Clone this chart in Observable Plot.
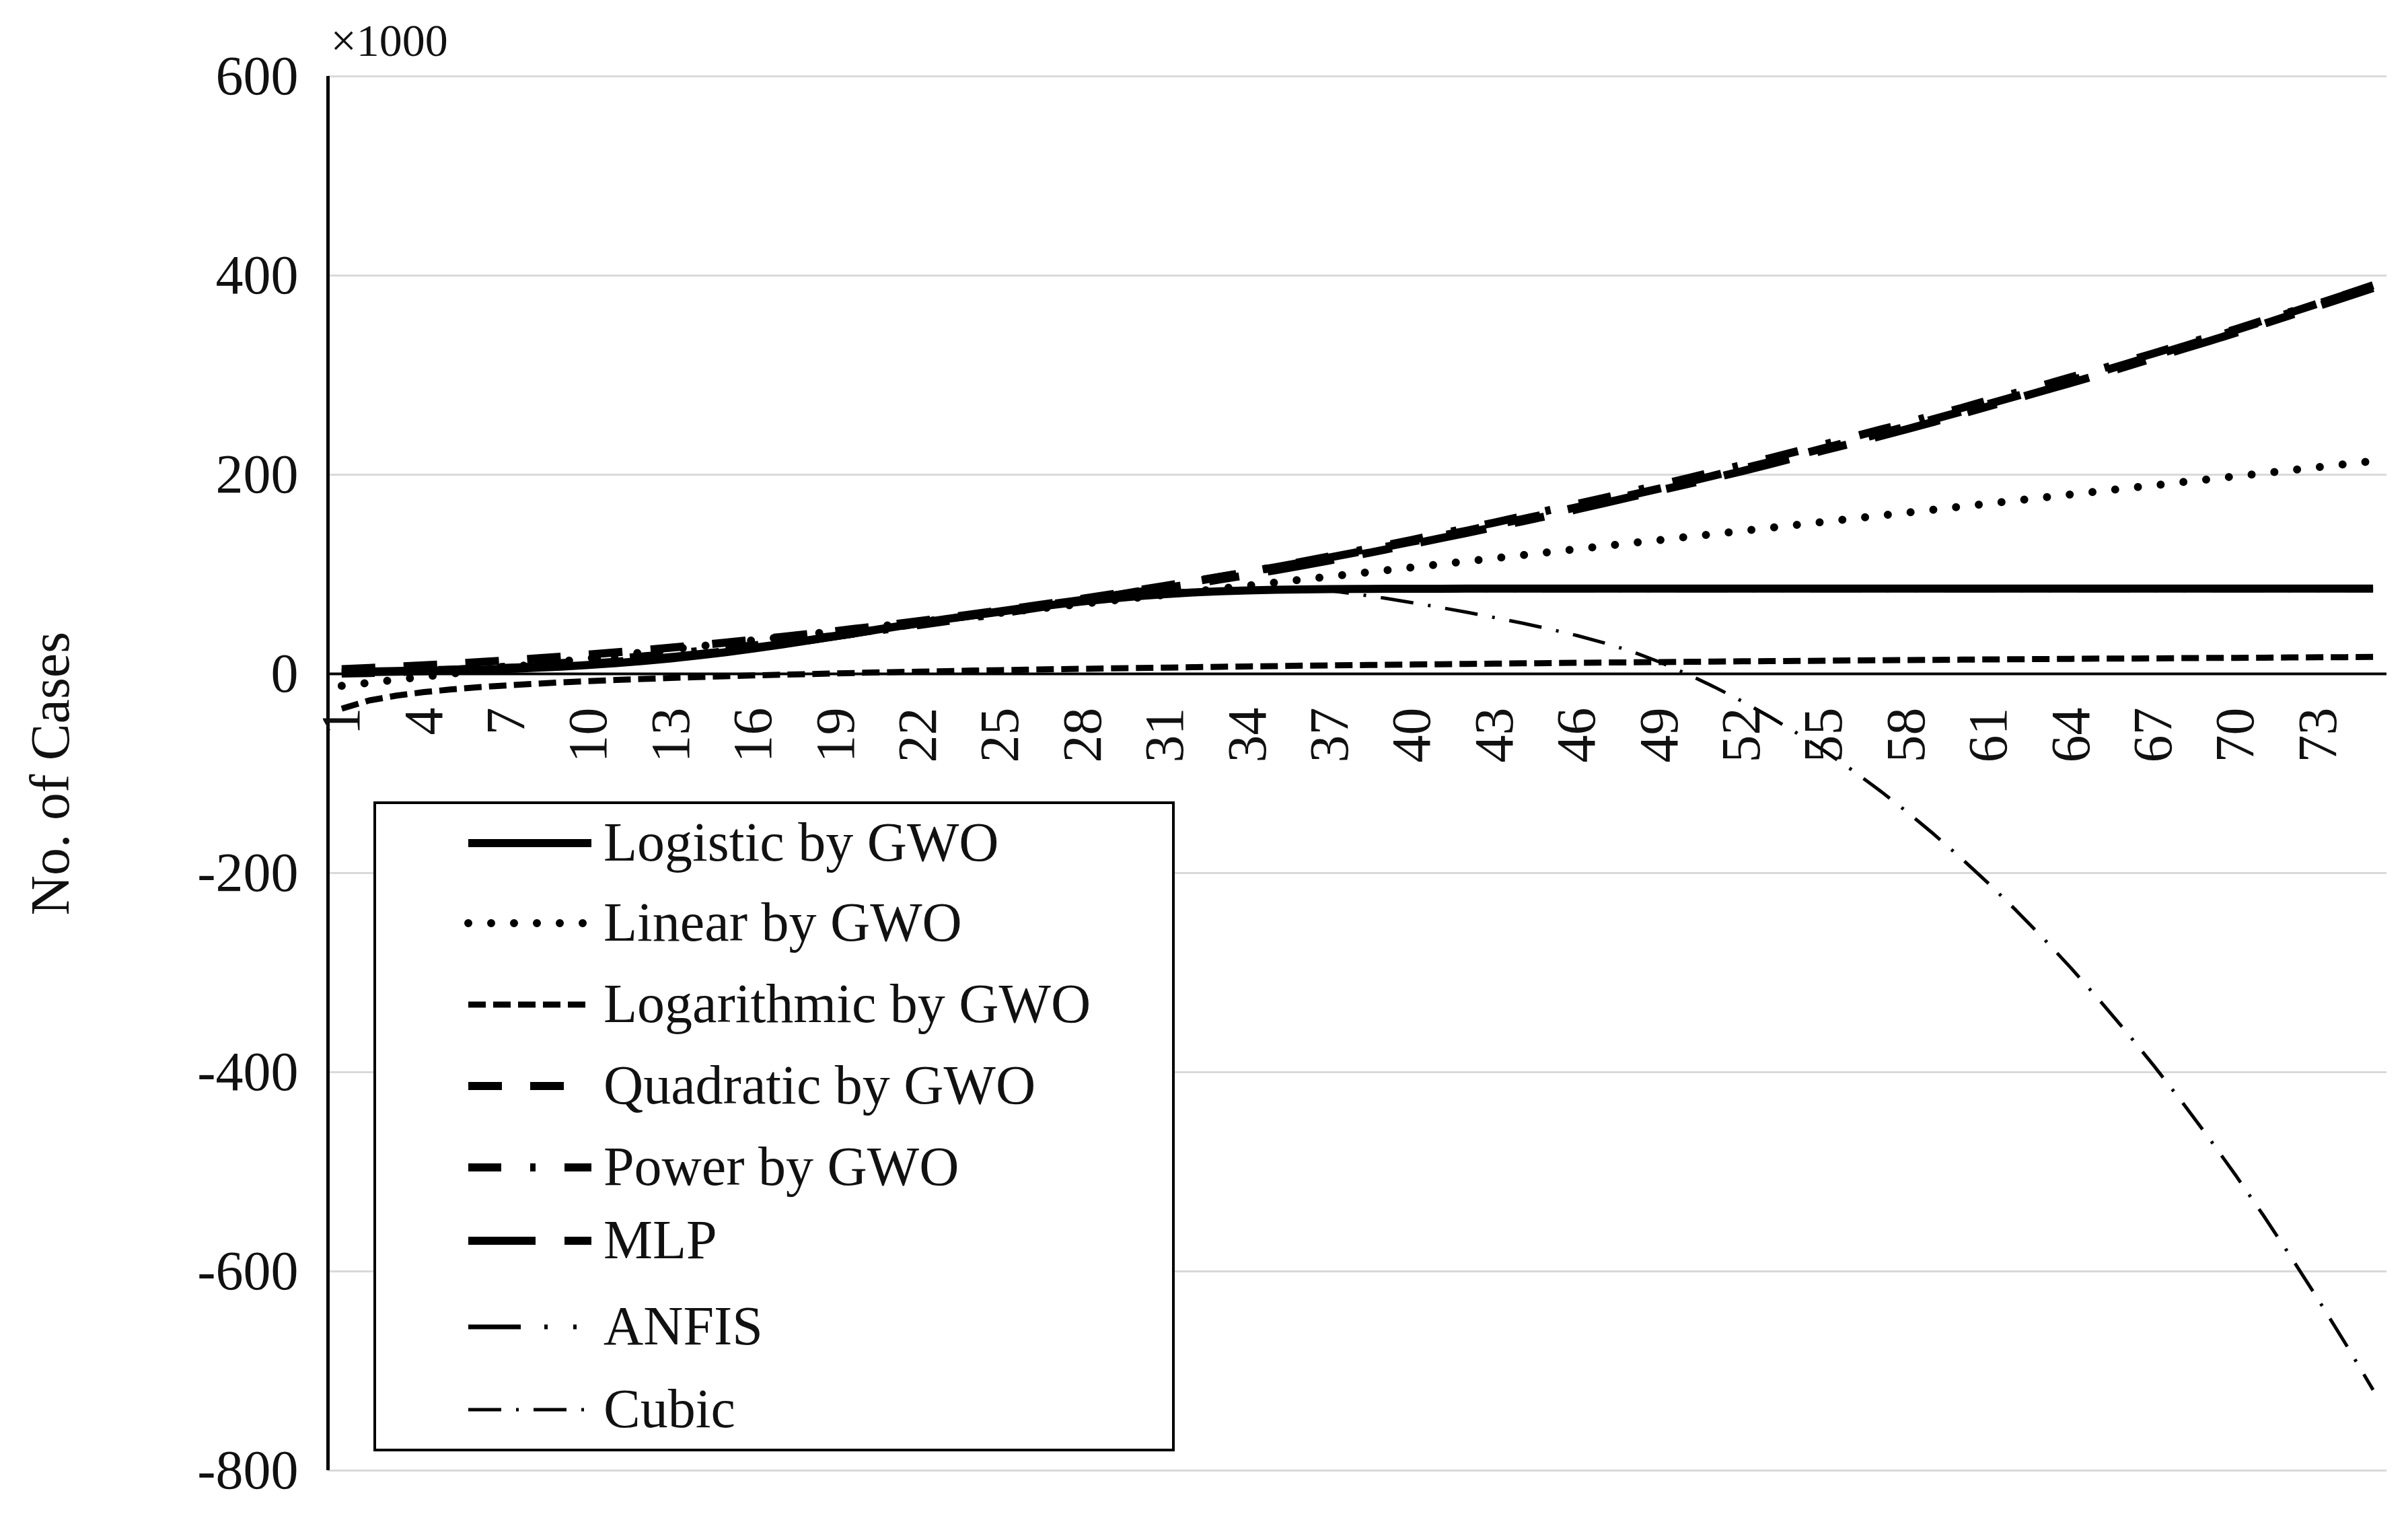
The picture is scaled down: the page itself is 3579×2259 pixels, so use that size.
<!DOCTYPE html>
<html><head><meta charset="utf-8">
<script src="https://cdn.jsdelivr.net/npm/d3@7"></script>
<script src="https://cdn.jsdelivr.net/npm/@observablehq/plot@0.6"></script>
<style>
html,body{margin:0;padding:0;background:#fff;}
#wrap{position:relative;width:3579px;height:2259px;font-family:"Liberation Serif","Times New Roman",serif;}
#legend{position:absolute;left:555px;top:1191px;width:1191px;height:966px;border:4px solid #000;background:#fff;box-sizing:border-box;}
#legend svg{position:absolute;left:0;top:0;}
</style></head><body><div id="wrap"></div>
<script>
// ---------- data ----------
const days = [1,2,3,4,5,6,7,8,9,10,11,12,13,14,15,16,17,18,19,20,21,22,23,24,25,26,27,28,29,30,31,32,33,34,35,36,37,38,39,40,41,42,43,44,45,46,47,48,49,50,51,52,53,54,55,56,57,58,59,60,61,62,63,64,65,66,67,68,69,70,71,72,73,74,75];
const xTickLabels = [1,4,7,10,13,16,19,22,25,28,31,34,37,40,43,46,49,52,55,58,61,64,67,70,73];
const yTicks = [600,400,200,0,-200,-400,-600,-800];
const seriesNames = ["Logistic by GWO","Linear by GWO","Logarithmic by GWO","Quadratic by GWO","Power by GWO","MLP","ANFIS","Cubic"];

const logistic = [
 1.5,1.8,2.2,2.7,3.3,4.0,4.9,6.0,7.3,8.9,
 10.8,13.0,15.6,18.5,21.8,25.4,29.3,33.5,37.8,42.2,
 46.6,50.9,55.0,58.8,62.4,66.2,69.6,72.7,75.5,78.0,
 80.0,81.7,82.9,83.8,84.4,84.8,85.1,85.3,85.4,85.5,
 85.5,85.6,85.6,85.6,85.6,85.6,85.6,85.6,85.6,85.6,
 85.6,85.6,85.6,85.6,85.6,85.6,85.6,85.6,85.6,85.6,
 85.6,85.6,85.6,85.6,85.6,85.6,85.6,85.6,85.6,85.6,
 85.6,85.6,85.6,85.6,85.6];
const linear = [
 -12.0,-9.0,-5.9,-2.9,0.2,3.3,6.3,9.4,12.4,15.5,
 18.5,21.6,24.6,27.7,30.7,33.8,36.8,39.9,42.9,46.0,
 49.0,52.1,55.1,58.2,61.2,64.3,67.3,70.4,73.4,76.5,
 79.5,82.6,85.6,88.7,91.7,94.8,97.8,100.9,103.9,107.0,
 110.0,113.1,116.1,119.2,122.2,125.3,128.3,131.4,134.4,137.5,
 140.5,143.6,146.6,149.7,152.7,155.8,158.8,161.9,164.9,168.0,
 171.0,174.1,177.1,180.2,183.2,186.3,189.3,192.4,195.4,198.5,
 201.5,204.6,207.6,210.7,213.7];
const logarithmic = [
 -35.0,-26.7,-21.8,-18.3,-15.6,-13.4,-11.6,-10.0,-8.5,-7.3,
 -6.1,-5.1,-4.1,-3.2,-2.4,-1.6,-0.9,-0.2,0.4,1.1,
 1.7,2.2,2.7,3.3,3.8,4.2,4.7,5.1,5.5,5.9,
 6.3,6.7,7.1,7.5,7.8,8.2,8.5,8.8,9.1,9.4,
 9.7,10.0,10.3,10.6,10.8,11.1,11.4,11.6,11.9,12.1,
 12.3,12.6,12.8,13.0,13.2,13.5,13.7,13.9,14.1,14.3,
 14.5,14.7,14.9,15.1,15.3,15.4,15.6,15.8,16.0,16.1,
 16.3,16.5,16.7,16.8,17.0];
const quadratic = [
 4.7,5.9,7.2,8.6,10.1,11.8,13.5,15.4,17.3,19.4,
 21.6,23.9,26.3,28.8,31.4,34.2,37.0,40.0,43.0,46.2,
 49.5,52.9,56.4,60.0,63.7,67.6,71.5,75.6,79.7,84.0,
 88.4,92.9,97.5,102.2,107.0,112.0,117.0,122.2,127.4,132.8,
 138.3,143.9,149.6,155.4,161.3,167.4,173.5,179.8,186.1,192.6,
 199.2,205.9,212.7,219.6,226.6,233.8,241.0,248.4,255.8,263.4,
 271.1,278.9,286.8,294.8,302.9,311.2,319.5,328.0,336.5,345.2,
 354.0,362.9,371.9,381.0,390.2];
const power = [
 0.3,0.9,1.7,2.8,4.0,5.5,7.1,8.9,10.8,12.9,
 15.2,17.6,20.1,22.8,25.7,28.6,31.7,34.9,38.2,41.7,
 45.3,49.0,52.8,56.8,60.8,65.0,69.3,73.6,78.1,82.8,
 87.4,92.4,97.3,102.2,107.4,112.7,118.0,123.5,129.0,134.6,
 140.5,146.2,152.0,158.1,164.4,170.6,176.8,183.1,189.7,196.2,
 203.0,209.6,216.4,223.4,230.4,237.5,244.9,251.9,259.8,266.9,
 274.8,282.3,290.0,297.9,305.5,313.8,321.8,330.3,337.9,346.2,
 354.9,363.6,371.7,380.8,389.2];
const mlp = [
 2.0,2.4,2.9,3.5,4.2,5.0,6.0,7.2,8.6,10.3,
 12.2,14.4,16.9,19.7,22.8,26.2,29.9,33.8,37.9,42.1,
 46.4,50.6,54.8,58.9,62.9,66.8,70.6,74.4,78.2,82.1,
 86.2,90.4,94.8,99.3,104.0,108.9,114.0,119.3,124.8,130.4,
 136.0,141.7,147.4,153.2,159.1,165.2,171.5,177.9,184.2,190.4,
 196.8,203.5,210.4,217.5,224.5,231.4,238.4,245.6,253.1,260.9,
 268.8,276.6,284.4,292.2,300.3,308.6,317.1,325.6,334.0,342.5,
 351.3,360.3,369.4,378.4,387.5];
const anfis = [
 0.5,0.9,1.4,2.0,2.8,3.7,4.8,6.1,7.6,9.4,
 11.5,13.9,16.6,19.6,22.9,26.5,30.3,34.3,38.4,42.6,
 46.8,51.0,55.1,59.0,62.7,66.2,69.4,72.3,74.9,77.2,
 79.2,80.8,82.0,82.9,83.5,83.9,84.1,84.2,84.3,84.3,
 84.3,84.3,84.3,84.3,84.3,84.3,84.3,84.3,84.3,84.3,
 84.3,84.3,84.3,84.3,84.3,84.3,84.3,84.3,84.3,84.3,
 84.3,84.3,84.3,84.3,84.3,84.3,84.3,84.3,84.3,84.3,
 84.3,84.3,84.3,84.3,84.3];
const cubic = [
 3.0,3.2,3.5,3.9,4.5,5.2,6.1,7.2,8.5,10.1,
 12.0,14.2,16.7,19.5,22.6,26.0,29.7,33.6,37.7,41.9,
 46.1,50.3,54.4,58.4,62.2,65.9,69.4,72.6,75.5,78.1,
 80.3,82.1,83.4,84.2,84.5,84.4,83.6,80.0,76.0,71.5,
 66.8,61.8,56.5,51.0,45.0,38.5,31.0,22.5,12.0,0.0,
 -13.1,-27.3,-42.7,-59.3,-77.2,-96.2,-116.5,-138.1,-161.0,-185.2,
 -210.7,-237.6,-265.9,-295.5,-326.6,-359.1,-393.0,-428.4,-465.3,-503.7,
 -543.6,-585.2,-628.2,-672.8,-719.0];

const seriesValues = [logistic, linear, logarithmic, quadratic, power, mlp, anfis, cubic];

// ---------- styles ----------
const lineStyles = [
  {w:12, dash:"none", cap:"butt"},
  {w:12, dash:"0,34", cap:"round"},
  {w:9,  dash:"26,11", cap:"butt"},
  {w:12, dash:"50,42", cap:"butt"},
  {w:12, dash:"49,43,8,43", cap:"butt"},
  {w:12, dash:"100,43,45,43", cap:"butt"},
  {w:7,  dash:"78,35,5,38,5,38", cap:"butt"},
  {w:5,  dash:"49,22,4,22", cap:"butt"}
];
const FONT = "Liberation Serif, Times New Roman, serif";
const TXT = "#111";

const lineMarks = seriesValues.map((vals, k) => Plot.line(days, {
  x: d => d,
  y: (d, i) => vals[i],
  stroke: "#000",
  strokeWidth: lineStyles[k].w,
  strokeDasharray: lineStyles[k].dash,
  strokeLinecap: lineStyles[k].cap,
  strokeLinejoin: "round"
}));

const chart = Plot.plot({
  width: 3579,
  height: 2259,
  marginLeft: 487,
  marginRight: 32,
  marginTop: 113,
  marginBottom: 74,
  style: {fontFamily: FONT, fontSize: "82px", color: TXT, background: "#fff", overflow: "visible"},
  x: {type: "linear", domain: [0.5, 75.5], axis: null},
  y: {type: "linear", domain: [-800, 600], axis: null},
  marks: [
    Plot.ruleY(yTicks, {stroke: "#d9d9d9", strokeWidth: 3}),
    ...lineMarks,
    Plot.ruleY([0], {stroke: "#000", strokeWidth: 4}),
    Plot.ruleX([0.5], {stroke: "#000", strokeWidth: 5}),
    Plot.text(yTicks, {y: d => d, frameAnchor: "left", dx: -44, textAnchor: "end",
      text: d => String(d), fontSize: 82, fill: TXT}),
    Plot.text(xTickLabels, {x: d => d, y: () => 0, dy: 50, rotate: -90, textAnchor: "end",
      text: d => String(d), fontSize: 82, fill: TXT}),
    Plot.text(["×1000"], {frameAnchor: "top-left", dx: 4, dy: -52, textAnchor: "start", lineAnchor: "middle",
      text: d => d, fontSize: 68, fill: TXT}),
    Plot.text(["No. of Cases"], {frameAnchor: "left", dx: -412, rotate: -90, textAnchor: "middle",
      text: d => d, fontSize: 82, fill: TXT})
  ]
});

const wrap = document.getElementById("wrap");
wrap.appendChild(chart);

// ---------- legend (overlay box) ----------
const legendRowsY = [58, 177, 298, 419, 540, 649, 777, 900];
const legend = document.createElement("div");
legend.id = "legend";
const ns = "http://www.w3.org/2000/svg";
const lsvg = document.createElementNS(ns, "svg");
lsvg.setAttribute("width", 1183);
lsvg.setAttribute("height", 958);
seriesNames.forEach((name, k) => {
  const y = legendRowsY[k];
  const ln = document.createElementNS(ns, "line");
  ln.setAttribute("x1", 137); ln.setAttribute("x2", 320);
  ln.setAttribute("y1", y); ln.setAttribute("y2", y);
  ln.setAttribute("stroke", "#000");
  ln.setAttribute("stroke-width", lineStyles[k].w);
  ln.setAttribute("stroke-dasharray", lineStyles[k].dash);
  ln.setAttribute("stroke-linecap", lineStyles[k].cap);
  lsvg.appendChild(ln);
  const t = document.createElementNS(ns, "text");
  t.setAttribute("x", 338); t.setAttribute("y", y);
  t.setAttribute("dy", "0.32em");
  t.setAttribute("font-family", FONT);
  t.setAttribute("font-size", 82);
  t.setAttribute("fill", TXT);
  t.textContent = name;
  lsvg.appendChild(t);
});
legend.appendChild(lsvg);
wrap.appendChild(legend);
</script></body></html>
